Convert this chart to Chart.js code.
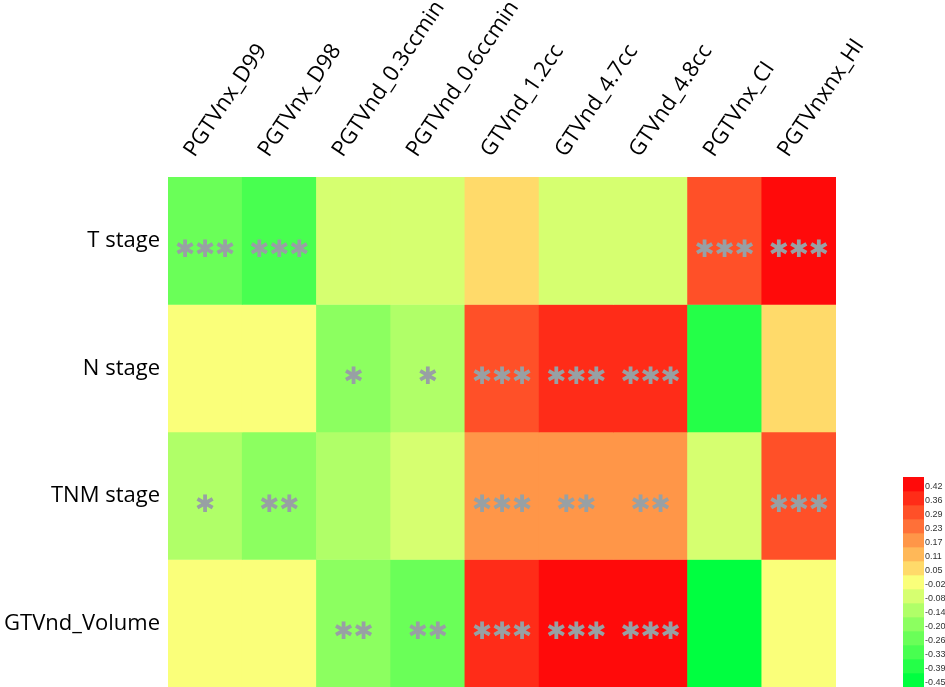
<!DOCTYPE html>
<html>
<head>
<meta charset="utf-8">
<script src="https://cdn.jsdelivr.net/npm/chart.js@4"></script>
<style>
  html, body { margin: 0; padding: 0; background: #fff; }
  #wrap { position: relative; width: 945px; height: 687px; overflow: hidden; }
  #main { position: absolute; left: 0; top: 0; width: 945px; height: 687px; }
  #scale { position: absolute; left: 903px; top: 477px; width: 42px; height: 210px; }
</style>
</head>
<body>
<div id="wrap">
  <div id="main"><canvas id="heatmap"></canvas></div>
  <div id="scale"><canvas id="colorbar"></canvas></div>
</div>
<script>
const colLabels = ['PGTVnx_D99', 'PGTVnx_D98', 'PGTVnd_0.3ccmin', 'PGTVnd_0.6ccmin',
    'GTVnd_1.2cc', 'GTVnd_4.7cc', 'GTVnd_4.8cc', 'PGTVnx_CI', 'PGTVnxnx_HI'];
const rowLabels = ['T stage', 'N stage', 'TNM stage', 'GTVnd_Volume'];

// correlation per row
const tStage   = [-0.26, -0.33, -0.08, -0.08, 0.05, -0.08, -0.08, 0.29, 0.42];
const nStage   = [-0.02, -0.02, -0.20, -0.14, 0.29, 0.36, 0.36, -0.39, 0.05];
const tnmStage = [-0.14, -0.20, -0.14, -0.08, 0.17, 0.17, 0.17, -0.08, 0.29];
const gtvVol   = [-0.02, -0.02, -0.20, -0.26, 0.36, 0.42, 0.42, -0.45, -0.02];
const values = [tStage, nStage, tnmStage, gtvVol];

// significance marks
const tStars   = ['***', '***', '', '', '', '', '', '***', '***'];
const nStars   = ['', '', '*', '*', '***', '***', '***', '', ''];
const tnmStars = ['*', '**', '', '', '***', '**', '**', '', '***'];
const gtvStars = ['', '', '**', '**', '***', '***', '***', '', ''];
const stars = [tStars, nStars, tnmStars, gtvStars];

// colour scale levels, top to bottom
const levels = [0.42, 0.36, 0.29, 0.23, 0.17, 0.11, 0.05, -0.02, -0.08, -0.14, -0.20, -0.26, -0.33, -0.39, -0.45];
const palette = ['#ff0a0a', '#ff2c18', '#ff5028', '#ff7038', '#ff9648', '#ffb858', '#ffda6a', '#faff7a',
    '#d6ff70', '#b0ff68', '#8cff60', '#6aff58', '#48ff50', '#24ff48', '#00ff40'];

function colorFor(v) {
    let best = 0;
    levels.forEach((l, i) => {
        if (Math.abs(l - v) < Math.abs(levels[best] - v)) best = i;
    });
    return palette[best];
}

const labelFont = { family: '"Open Sans"', size: 22 };

const starsPlugin = {
    id: 'stars',
    afterDatasetsDraw(chart) {
        const ctx = chart.ctx;
        ctx.save();
        ctx.fillStyle = '#98a0a4';
        ctx.font = '24px "DejaVu Sans"';
        ctx.textAlign = 'center';
        ctx.textBaseline = 'alphabetic';
        const glyph = '\u2731';
        const m = ctx.measureText(glyph);
        const shift = (m.actualBoundingBoxAscent - m.actualBoundingBoxDescent) / 2;
        stars.forEach((row, i) => {
            const meta = chart.getDatasetMeta(i);
            row.forEach((s, j) => {
                const bar = meta.data[j];
                const cx = bar.x;
                const cy = (bar.y + bar.base) / 2 + 7;
                for (let k = 0; k < s.length; k++) {
                    ctx.fillText(glyph, cx + (k - (s.length - 1) / 2) * 20, cy + shift);
                }
            });
        });
        ctx.restore();
    }
};

new Chart(document.getElementById('heatmap'), {
    type: 'bar',
    data: {
        labels: colLabels,
        datasets: rowLabels.map((r, i) => ({
            label: r,
            data: colLabels.map(() => 1),
            backgroundColor: values[i].map(colorFor),
            borderWidth: 0,
            barPercentage: 1,
            categoryPercentage: 1
        }))
    },
    options: {
        responsive: true,
        maintainAspectRatio: false,
        animation: false,
        layout: { padding: { left: 0, right: 109, top: 0, bottom: 0 } },
        plugins: { legend: { display: false }, tooltip: { enabled: false } },
        scales: {
            x: {
                position: 'top',
                stacked: true,
                grid: { display: false, drawTicks: false },
                border: { display: false },
                ticks: {
                    autoSkip: false,
                    minRotation: 56,
                    maxRotation: 56,
                    color: '#000',
                    font: labelFont,
                    padding: 15,
                    labelOffset: 6
                },
                afterFit: s => { s.height = 177; s.paddingLeft = 0; s.paddingRight = 0; }
            },
            y: {
                stacked: true,
                min: 0,
                max: 4,
                reverse: true,
                grid: { display: false, drawTicks: false },
                border: { display: false },
                afterBuildTicks: s => { s.ticks = rowLabels.map((_, i) => ({ value: i + 0.5 })); },
                ticks: {
                    color: '#000',
                    font: labelFont,
                    padding: 8,
                    callback: (v, i) => rowLabels[i]
                },
                afterFit: s => { s.width = 168; s.paddingTop = 0; s.paddingBottom = 0; }
            }
        }
    },
    plugins: [starsPlugin]
});

new Chart(document.getElementById('colorbar'), {
    type: 'bar',
    data: {
        labels: [''],
        datasets: levels.map((l, i) => ({
            label: String(l),
            data: [1],
            backgroundColor: palette[i],
            borderWidth: 0,
            barPercentage: 1,
            categoryPercentage: 1
        }))
    },
    options: {
        responsive: true,
        maintainAspectRatio: false,
        animation: false,
        layout: { padding: 0 },
        plugins: { legend: { display: false }, tooltip: { enabled: false } },
        scales: {
            x: { stacked: true, display: false },
            y: {
                stacked: true,
                position: 'right',
                min: 0,
                max: levels.length,
                reverse: true,
                grid: { display: false, drawTicks: false },
                border: { display: false },
                afterBuildTicks: s => { s.ticks = levels.map((_, i) => ({ value: i + 0.7 })); },
                ticks: {
                    autoSkip: false,
                    color: '#333',
                    font: { family: '"Liberation Sans"', size: 9 },
                    padding: 1,
                    callback: (v, i) => levels[i].toFixed(2)
                },
                afterFit: s => { s.width = 21; s.paddingTop = 0; s.paddingBottom = 0; }
            }
        }
    }
});
</script>
</body>
</html>
